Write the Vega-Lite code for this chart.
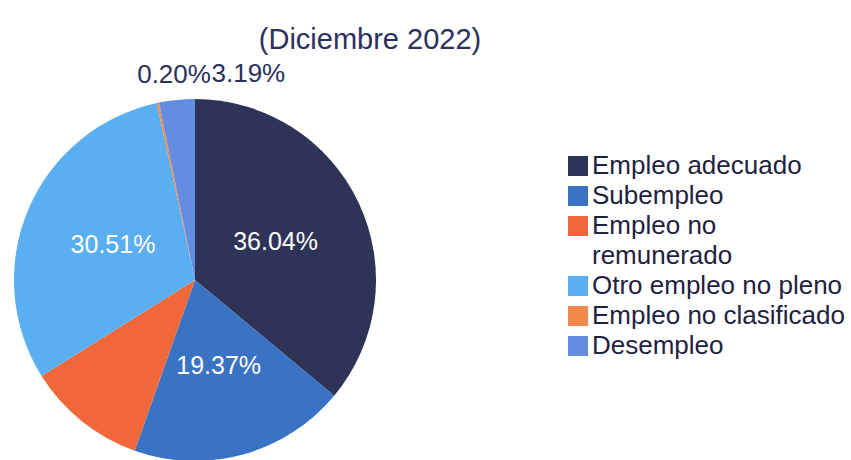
{
  "$schema": "https://vega.github.io/schema/vega-lite/v6.json",
  "width": 390,
  "height": 362,
  "autosize": {"type": "none"},
  "padding": {"left": 0, "top": 99, "right": 461, "bottom": 0},
  "background": "white",
  "view": {"stroke": null},
  "title": {
    "text": "(Diciembre 2022)",
    "fontSize": 29,
    "font": "Liberation Sans",
    "fontWeight": "normal",
    "color": "#2b3060",
    "dx": 175,
    "offset": 4,
    "anchor": "middle"
  },
  "data": {
    "values": [
      {"categoria": "Empleo adecuado", "valor": 0.3604, "orden": 1},
      {"categoria": "Subempleo", "valor": 0.1937, "orden": 2},
      {"categoria": "Empleo no remunerado", "valor": 0.1069, "orden": 3},
      {"categoria": "Otro empleo no pleno", "valor": 0.3051, "orden": 4},
      {"categoria": "Empleo no clasificado", "valor": 0.0020, "orden": 5},
      {"categoria": "Desempleo", "valor": 0.0319, "orden": 6}
    ]
  },
  "encoding": {
    "theta": {"field": "valor", "type": "quantitative", "stack": true},
    "order": {"field": "orden", "type": "quantitative"}
  },
  "layer": [
    {
      "mark": {"type": "arc", "outerRadius": 181},
      "encoding": {
        "color": {
          "field": "categoria",
          "type": "nominal",
          "sort": ["Empleo adecuado", "Subempleo", "Empleo no remunerado", "Otro empleo no pleno", "Empleo no clasificado", "Desempleo"],
          "scale": {
            "domain": ["Empleo adecuado", "Subempleo", "Empleo no remunerado", "Otro empleo no pleno", "Empleo no clasificado", "Desempleo"],
            "range": ["#2d3457", "#3a73c4", "#f0683a", "#5aaef2", "#f28a4c", "#628de0"]
          },
          "legend": {
            "title": null,
            "orient": "none",
            "legendX": 565,
            "legendY": 54,
            "symbolType": "square",
            "symbolSize": 400,
            "symbolStrokeWidth": 0,
            "labelFontSize": 26,
            "labelFont": "Liberation Sans",
            "labelColor": "#1f2140",
            "labelLimit": 400,
            "labelOffset": 1,
            "rowPadding": 4,
            "padding": 0,
            "labelExpr": "datum.label == 'Empleo no remunerado' ? ['Empleo no', 'remunerado'] : datum.label",
            "encode": {"labels": {"update": {"lineHeight": {"value": 30}}}}
          }
        }
      }
    },
    {
      "mark": {"type": "text", "radius": 89, "fontSize": 25, "font": "Liberation Sans", "color": "white"},
      "encoding": {
        "text": {
          "condition": {"test": "datum.orden == 1 || datum.orden == 2 || datum.orden == 4", "field": "valor", "type": "quantitative", "format": ".2%"},
          "value": ""
        }
      }
    },
    {
      "mark": {"type": "text", "radius": 205, "fontSize": 26, "font": "Liberation Sans", "color": "#2b2f5c", "align": "right", "baseline": "middle", "dx": 58, "dy": -4},
      "encoding": {
        "text": {
          "condition": {"test": "datum.orden == 5", "field": "valor", "type": "quantitative", "format": ".2%"},
          "value": ""
        }
      }
    },
    {
      "mark": {"type": "text", "radius": 205, "fontSize": 26, "font": "Liberation Sans", "color": "#2b2f5c", "align": "left", "baseline": "middle", "dx": 37, "dy": -2},
      "encoding": {
        "text": {
          "condition": {"test": "datum.orden == 6", "field": "valor", "type": "quantitative", "format": ".2%"},
          "value": ""
        }
      }
    }
  ]
}
